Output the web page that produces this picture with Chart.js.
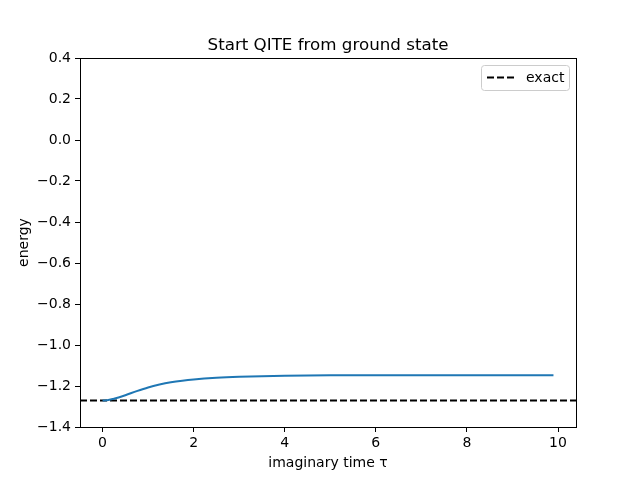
<!DOCTYPE html>
<html>
<head>
<meta charset="utf-8">
<script src="https://cdn.jsdelivr.net/npm/chart.js@4"></script>
<style>
  html, body { margin: 0; padding: 0; background: #fff; }
  #chart { display: block; }
</style>
</head>
<body>
<canvas id="chart" width="640" height="480"></canvas>
<script>
// data
const tau = [0, 0.1, 0.25, 0.5, 0.75, 1.0, 1.25, 1.5, 1.75, 2.0, 2.5, 3.0, 3.5, 4.0, 5.0, 6.0, 7.0, 8.0, 9.0, 9.9];
const energy = [-1.271, -1.270, -1.262, -1.245, -1.225, -1.207, -1.193, -1.182, -1.174, -1.168, -1.160, -1.155, -1.152, -1.150, -1.148, -1.147, -1.147, -1.147, -1.147, -1.147];
const exactEnergy = -1.271;
const xRange = [-0.495, 10.395];
const xTicks = [0, 2, 4, 6, 8, 10];
const yRange = [-1.4, 0.4];

const FONT = 'DejaVu Sans';
const fmt = v => v.toFixed(1).replace('-', '\u2212');

// box frame + legend + title, matplotlib style
const framePlugin = {
  id: 'frame',
  afterDraw(chart) {
    const { ctx, chartArea: a } = chart;
    ctx.save();
    ctx.strokeStyle = '#000';
    ctx.lineWidth = 1;
    ctx.strokeRect(a.left + 0.5, a.top + 0.5, a.right - a.left, a.bottom - a.top);

    // title
    ctx.fillStyle = '#000';
    ctx.font = '16.7px "' + FONT + '"';
    ctx.textAlign = 'center';
    ctx.textBaseline = 'alphabetic';
    ctx.fillText('Start QITE from ground state', (a.left + a.right) / 2, 50);

    // legend
    const ds = chart.data.datasets[1];
    const bx = a.right - 95, by = a.top + 7, bw = 88, bh = 25;
    ctx.fillStyle = 'rgba(255,255,255,0.8)';
    ctx.strokeStyle = '#cccccc';
    ctx.beginPath();
    ctx.roundRect(bx + 0.5, by + 0.5, bw, bh, 3);
    ctx.fill();
    ctx.stroke();
    ctx.strokeStyle = ds.borderColor;
    ctx.lineWidth = ds.borderWidth;
    ctx.setLineDash(ds.borderDash);
    ctx.beginPath();
    ctx.moveTo(bx + 6, by + 12.5);
    ctx.lineTo(bx + 34, by + 12.5);
    ctx.stroke();
    ctx.setLineDash([]);
    ctx.fillStyle = '#000';
    ctx.font = '14px "' + FONT + '"';
    ctx.textAlign = 'left';
    ctx.textBaseline = 'middle';
    ctx.fillText(ds.label, bx + 45, by + 13);
    ctx.restore();
  }
};

new Chart(document.getElementById('chart'), {
  type: 'scatter',
  data: {
    datasets: [
      {
        label: 'QITE',
        data: tau.map((t, i) => ({ x: t, y: energy[i] })),
        showLine: true,
        borderColor: '#1f77b4',
        borderWidth: 2,
        pointRadius: 0,
        cubicInterpolationMode: 'monotone'
      },
      {
        label: 'exact',
        data: [{ x: xRange[0], y: exactEnergy }, { x: xRange[1], y: exactEnergy }],
        showLine: true,
        borderColor: '#000',
        borderWidth: 2,
        borderDash: [7, 3],
        pointRadius: 0
      }
    ]
  },
  options: {
    responsive: false,
    devicePixelRatio: 1,
    animation: false,
    layout: { padding: { top: 58, right: 64, left: 16, bottom: 8 } },
    plugins: {
      legend: { display: false },
      title: { display: false },
      tooltip: { enabled: false }
    },
    scales: {
      x: {
        type: 'linear',
        min: xRange[0],
        max: xRange[1],
        afterBuildTicks: s => { s.ticks = xTicks.map(v => ({ value: v })); },
        afterFit: s => { s.height = 45; },
        ticks: {
          color: '#000',
          font: { family: FONT, size: 14 },
          padding: 3,
          maxRotation: 0,
          callback: v => String(v)
        },
        grid: { display: true, drawOnChartArea: false, tickLength: 5, tickColor: '#000' },
        border: { display: true, color: '#000' },
        title: {
          display: true,
          text: 'imaginary time \u03c4',
          color: '#000',
          font: { family: FONT, size: 14 },
          padding: { top: 4, bottom: 0 }
        }
      },
      y: {
        type: 'linear',
        min: yRange[0],
        max: yRange[1],
        afterFit: s => { s.width = 64; },
        ticks: {
          stepSize: 0.2,
          color: '#000',
          font: { family: FONT, size: 14 },
          padding: 4,
          callback: v => fmt(v)
        },
        grid: { display: true, drawOnChartArea: false, tickLength: 5, tickColor: '#000' },
        border: { display: true, color: '#000' },
        title: {
          display: true,
          text: 'energy',
          color: '#000',
          font: { family: FONT, size: 14 },
          padding: { top: 0, bottom: 4 }
        }
      }
    }
  },
  plugins: [framePlugin]
});
</script>
</body>
</html>
